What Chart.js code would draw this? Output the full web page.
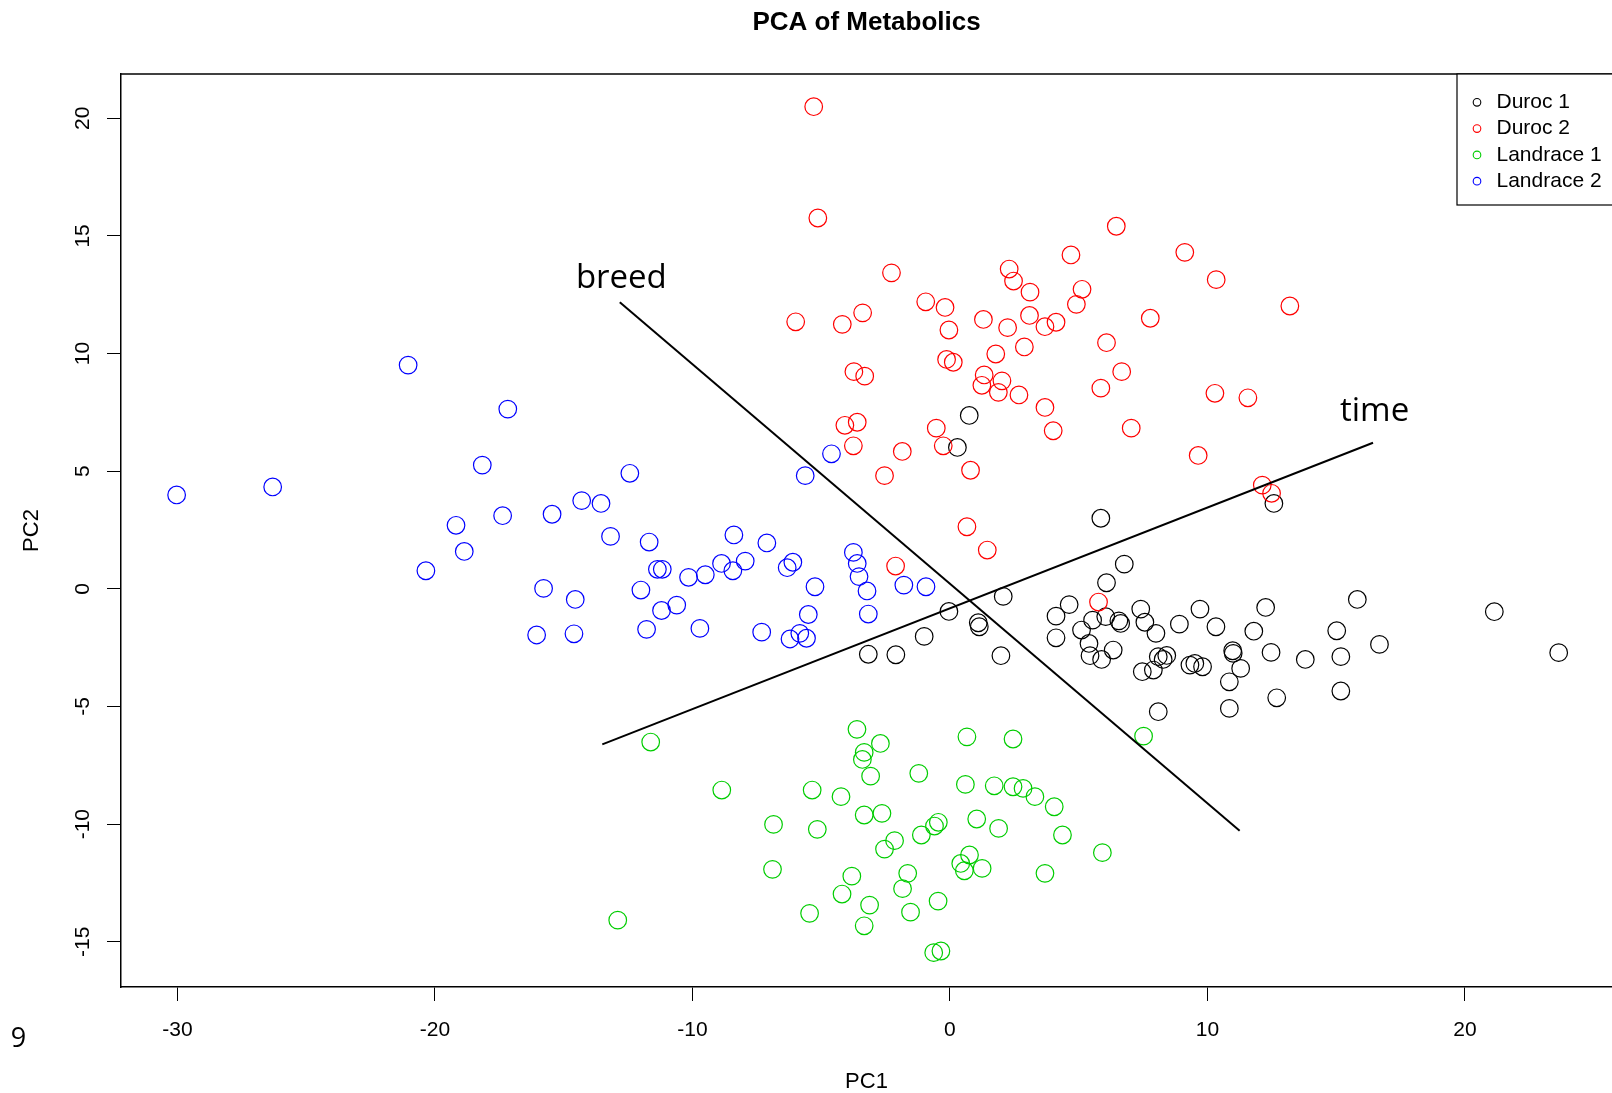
<!DOCTYPE html>
<html>
<head>
<meta charset="utf-8">
<title>PCA of Metabolics</title>
<script src="https://cdn.jsdelivr.net/npm/chart.js@4/dist/chart.umd.min.js"></script>
<style>
  html, body { margin: 0; padding: 0; background: #fff; }
  #wrap { width: 1612px; height: 1093px; }
</style>
</head>
<body>
<div id="wrap"><canvas id="pcaChart" width="1612" height="1093"></canvas></div>
<script>
// groups and colours (R default palette order)
var groups = ['Duroc 1', 'Duroc 2', 'Landrace 1', 'Landrace 2'];
var groupColors = ['#000000', '#ff0000', '#00cd00', '#0000ff'];

// scores
var duroc1PC1 = [0.75, 0.29, 5.86, 12.58, 6.77, 6.08, 2.07, -0.04, 1.10, 1.14, -1.0, 1.98, -2.1, -3.17, 4.63, 4.12, 4.12, 5.11, 5.54, 6.05, 6.56, 6.63, 5.40, 5.44, 5.89, 6.34, 7.41, 7.57, 8.0, 8.91, 9.71, 10.33, 11.8, 8.09, 8.28, 8.42, 7.47, 7.90, 9.32, 9.51, 9.81, 10.98, 11.0, 11.29, 10.85, 8.09, 10.85, 12.26, 12.47, 12.69, 13.80, 15.02, 15.18, 15.18, 15.82, 16.68, 21.14, 23.64];
var duroc1PC2 = [7.37, 6.01, 3.0, 3.63, 1.05, 0.26, -0.32, -0.96, -1.44, -1.61, -2.02, -2.84, -2.8, -2.78, -0.67, -1.16, -2.08, -1.75, -1.33, -1.18, -1.36, -1.47, -2.32, -2.84, -3.0, -2.60, -0.86, -1.42, -1.89, -1.50, -0.86, -1.61, -1.8, -2.88, -3.0, -2.83, -3.52, -3.45, -3.24, -3.17, -3.31, -2.63, -2.74, -3.38, -3.95, -5.22, -5.08, -0.79, -2.70, -4.63, -3.0, -1.78, -2.88, -4.34, -0.45, -2.36, -0.97, -2.71];

var duroc2PC1 = [-5.29, -5.13, -2.27, 6.46, 4.70, 9.12, 10.34, 13.20, 2.30, 2.47, 3.11, 5.13, 4.91, -0.94, -0.19, -3.39, -5.99, -4.18, 1.30, 2.24, 3.09, 3.69, 4.12, 7.78, -0.04, 6.08, 2.89, 1.78, -0.13, 0.13, -3.73, -3.31, 6.67, 1.33, 2.02, 1.24, 1.88, 2.68, 5.86, 10.29, 11.57, 3.69, 7.04, 4.01, -4.08, -3.60, -0.53, -3.75, -1.85, -0.26, -2.54, 0.80, 9.64, 12.13, 12.49, 0.66, 1.45, -2.11, 5.77];
var duroc2PC2 = [20.49, 15.76, 13.43, 15.41, 14.19, 14.30, 13.14, 12.02, 13.59, 13.08, 12.61, 12.73, 12.09, 12.20, 11.96, 11.73, 11.35, 11.24, 11.45, 11.10, 11.62, 11.14, 11.33, 11.50, 11.0, 10.46, 10.28, 9.98, 9.75, 9.63, 9.23, 9.04, 9.23, 9.09, 8.84, 8.65, 8.35, 8.24, 8.53, 8.31, 8.12, 7.71, 6.83, 6.72, 6.95, 7.08, 6.83, 6.08, 5.84, 6.08, 4.81, 5.04, 5.67, 4.41, 4.06, 2.64, 1.65, 0.97, -0.56];

var landrace1PC1 = [-11.62, 7.52, -3.61, -2.70, -3.33, -3.40, -3.08, 0.66, 2.45, -1.21, -8.86, -5.35, -4.23, 0.60, 1.72, 2.45, 2.84, 3.30, 4.05, -6.85, -5.15, -3.33, -2.64, 1.04, -0.45, -0.60, 1.89, 4.37, -1.11, -2.15, -2.54, 5.92, 0.76, 0.42, 0.56, 1.25, 3.69, -6.89, -3.81, -1.64, -1.84, -4.19, -3.12, -5.45, -1.53, -0.46, -3.33, -12.90, -0.63, -0.35];
var landrace1PC2 = [-6.51, -6.26, -5.97, -6.57, -6.95, -7.25, -7.96, -6.29, -6.38, -7.84, -8.55, -8.55, -8.83, -8.31, -8.37, -8.41, -8.48, -8.83, -9.26, -10.01, -10.22, -9.61, -9.54, -9.78, -9.92, -10.08, -10.18, -10.46, -10.46, -10.70, -11.06, -11.21, -11.31, -11.67, -11.98, -11.88, -12.09, -11.92, -12.21, -12.09, -12.74, -12.97, -13.44, -13.79, -13.74, -13.27, -14.32, -14.08, -15.46, -15.39];

var landrace2PC1 = [-30.03, -26.30, -21.04, -17.17, -18.16, -19.18, -17.37, -18.86, -20.35, -15.45, -15.78, -16.05, -12.43, -14.30, -13.55, -13.18, -11.68, -11.36, -11.17, -10.15, -9.50, -8.87, -8.43, -7.95, -8.39, -7.11, -6.32, -6.10, -5.24, -14.55, -12.0, -11.20, -10.61, -14.60, -11.78, -9.71, -7.31, -6.21, -5.83, -5.57, -5.50, -5.62, -4.60, -3.75, -3.60, -3.53, -3.22, -3.17, -1.79, -0.93];
var landrace2PC2 = [3.99, 4.33, 9.51, 7.64, 5.26, 2.70, 3.11, 1.59, 0.77, 3.17, 0.02, -1.96, 4.91, 3.75, 3.63, 2.23, 1.99, 0.83, 0.83, 0.49, 0.60, 1.08, 0.77, 1.18, 2.29, 1.95, 0.90, 1.13, 0.09, -0.45, -0.05, -0.92, -0.69, -1.91, -1.72, -1.68, -1.84, -2.13, -1.89, -2.10, -1.09, 4.81, 5.74, 1.55, 1.08, 0.52, -0.09, -1.07, 0.16, 0.09];

// the two drawn direction lines and their labels
var arrowNames = ['breed', 'time'];
var breedPC1 = [-12.82, 11.25];
var breedPC2 = [12.18, -10.28];
var timePC1 = [-13.50, 16.43];
var timePC2 = [-6.61, 6.21];
var arrowLabelPC1 = [-12.76, 16.49];
var arrowLabelPC2 = [12.78, 7.15];

// axes
var xTicks = [-30, -20, -10, 0, 10, 20];
var yTicks = [-15, -10, -5, 0, 5, 10, 15, 20];
var xRange = [-32.19, 25.71];
var yRange = [-16.92, 21.88];

var rFont = "'Liberation Sans', Arial, sans-serif";

function pts(xs, ys) {
    return xs.map(function(x, i) { return { x: x, y: ys[i] }; });
}

var groupX = [duroc1PC1, duroc2PC1, landrace1PC1, landrace2PC1];
var groupY = [duroc1PC2, duroc2PC2, landrace1PC2, landrace2PC2];

var datasets = groups.map(function(name, i) {
    return {
        label: name,
        data: pts(groupX[i], groupY[i]),
        borderColor: groupColors[i],
        pointBorderColor: groupColors[i],
        backgroundColor: 'rgba(0,0,0,0)',
        pointBackgroundColor: 'rgba(0,0,0,0)',
        pointRadius: 8.8,
        pointBorderWidth: 1.2,
        showLine: false,
        order: 4 - i
    };
});
datasets.push({
    label: 'breed', data: pts(breedPC1, breedPC2), showLine: true,
    borderColor: '#000', borderWidth: 2, pointRadius: 0, fill: false, order: 0
});
datasets.push({
    label: 'time', data: pts(timePC1, timePC2), showLine: true,
    borderColor: '#000', borderWidth: 2, pointRadius: 0, fill: false, order: 0
});

/* title, box top, legend and text labels */
var extras = {
    id: 'extras',
    afterDraw: function(chart) {
        var ctx = chart.ctx, a = chart.chartArea;
        var xs = chart.scales.x, ys = chart.scales.y;
        ctx.save();
        // top edge of the plot box
        ctx.strokeStyle = '#000';
        ctx.lineWidth = 1.5;
        ctx.beginPath();
        ctx.moveTo(a.left, a.top);
        ctx.lineTo(a.right + 2, a.top);
        ctx.stroke();

        // title
        ctx.fillStyle = '#000';
        ctx.font = 'bold 26px ' + rFont;
        ctx.textAlign = 'center';
        ctx.textBaseline = 'middle';
        ctx.fillText('PCA of Metabolics', (a.left + a.right) / 2, 23);

        // legend
        var lx = a.right - 155, ly = a.top;
        ctx.fillStyle = '#fff';
        ctx.fillRect(lx, ly, 170, 131);
        ctx.lineWidth = 1.2;
        ctx.strokeStyle = '#000';
        ctx.strokeRect(lx, ly, 170, 131);
        ctx.font = '21px ' + rFont;
        ctx.textAlign = 'left';
        ctx.textBaseline = 'middle';
        groups.forEach(function(name, i) {
            var cy = ly + 28.3 + i * 26.3;
            ctx.strokeStyle = groupColors[i];
            ctx.lineWidth = 1.1;
            ctx.beginPath();
            ctx.arc(lx + 20, cy, 3.8, 0, Math.PI * 2);
            ctx.stroke();
            ctx.fillStyle = '#000';
            ctx.fillText(name, lx + 39.5, cy);
        });

        // direction labels
        ctx.font = "33px 'Open Sans', 'DejaVu Sans', sans-serif";
        ctx.textAlign = 'center';
        ctx.textBaseline = 'alphabetic';
        arrowNames.forEach(function(name, i) {
            ctx.fillText(name, xs.getPixelForValue(arrowLabelPC1[i]), ys.getPixelForValue(arrowLabelPC2[i]));
        });

        // stray figure number in the corner
        ctx.font = "27px 'Open Sans', 'DejaVu Sans', sans-serif";
        ctx.textBaseline = 'middle';
        ctx.fillText('9', 18.5, 1039);
        ctx.restore();
    }
};

var ctx = document.getElementById('pcaChart').getContext('2d');
var pcaChart = new Chart(ctx, {
    type: 'scatter',
    data: { datasets: datasets },
    options: {
        responsive: false,
        animation: false,
        events: [],
        layout: { autoPadding: false, padding: { top: 74, left: 0, right: 0, bottom: 0 } },
        plugins: {
            legend: { display: false },
            title: { display: false },
            tooltip: { enabled: false }
        },
        scales: {
            x: {
                type: 'linear',
                position: 'bottom',
                min: xRange[0],
                max: xRange[1],
                afterBuildTicks: function(s) { s.ticks = xTicks.map(function(v) { return { value: v }; }); },
                afterFit: function(s) { s.height = 106; },
                grid: { drawOnChartArea: false, drawTicks: true, tickLength: 14, color: '#000', lineWidth: 1 },
                border: { display: true, color: '#000', width: 1.5 },
                ticks: { color: '#000', font: { family: rFont, size: 21 }, padding: 17, maxRotation: 0, autoSkip: false },
                title: { display: true, text: 'PC1', color: '#000', font: { family: rFont, size: 22, lineHeight: 1 }, padding: { top: 0, bottom: 0 } }
            },
            y: {
                type: 'linear',
                position: 'left',
                min: yRange[0],
                max: yRange[1],
                afterBuildTicks: function(s) { s.ticks = yTicks.map(function(v) { return { value: v }; }); },
                afterFit: function(s) { s.width = 121; },
                grid: { drawOnChartArea: false, drawTicks: true, tickLength: 14, color: '#000', lineWidth: 1 },
                border: { display: true, color: '#000', width: 1.5 },
                ticks: { color: '#000', font: { family: rFont, size: 21 }, padding: 9, minRotation: 90, maxRotation: 90, crossAlign: 'center', autoSkip: false },
                title: { display: true, text: 'PC2', color: '#000', font: { family: rFont, size: 22 }, padding: { top: 19, bottom: 0 } }
            }
        }
    },
    plugins: [extras]
});
</script>
</body>
</html>
